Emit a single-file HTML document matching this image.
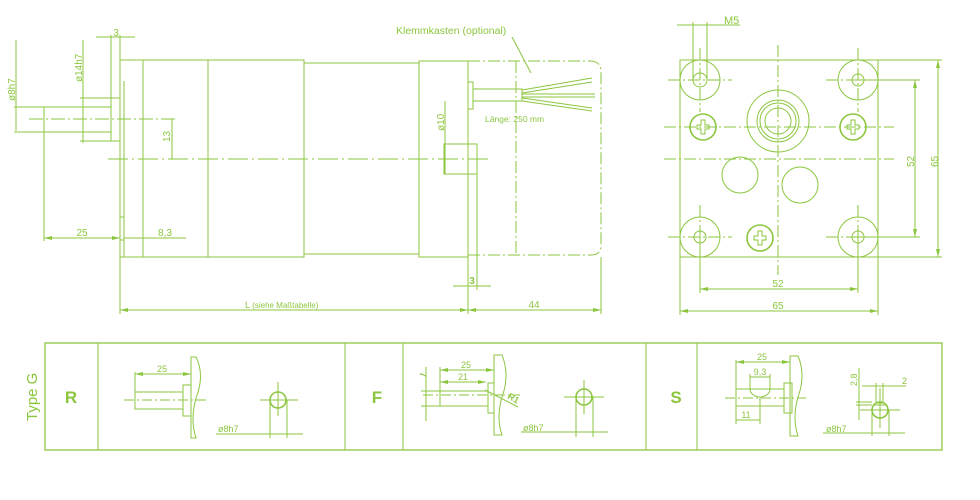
<!DOCTYPE html>
<html><head><meta charset="utf-8"><style>
html,body{margin:0;padding:0;background:#fff;width:980px;height:500px;overflow:hidden}
svg{display:block}
text{font-family:"Liberation Sans",sans-serif;fill:#8cc63f}
</style></head><body>
<svg width="980" height="500" viewBox="0 0 980 500" xmlns="http://www.w3.org/2000/svg">
<defs>
<marker id="a" viewBox="0 0 8 6" refX="8" refY="3" markerWidth="8" markerHeight="6" orient="auto-start-reverse"><path d="M0,1 L8,3 L0,5z" fill="#8cc63f"/></marker>
</defs>
<g stroke="#8cc63f" fill="none" stroke-width="1">
<!-- main side view -->
<rect x="120" y="60" width="184" height="197"/>
<line x1="143" y1="60" x2="143" y2="257"/>
<line x1="208" y1="60" x2="208" y2="257"/>
<line x1="304" y1="63" x2="419" y2="63"/>
<line x1="304" y1="254" x2="419" y2="254"/>
<rect x="419" y="61" width="49" height="196"/>
<rect x="468" y="82" width="5" height="27"/>
<rect x="473" y="89" width="49" height="12"/>
<path d="M522,90 L592,78 M522,93 L592,82 M522,94 L595,94 M522,97 L595,97 M522,98 L592,108 M522,101 L592,111"/>
<rect x="444" y="144" width="33" height="30"/>
<!-- terminal box dashed -->
<path d="M468,61 L590,61 Q601,61 601,72 L601,246 Q601,255 590,255 L468,255" stroke-dasharray="12,3,2,3"/>
<line x1="516" y1="61" x2="516" y2="255" stroke-dasharray="12,3,2,3"/>
<!-- shaft -->
<rect x="44" y="107" width="67" height="25"/>
<rect x="111" y="98" width="9" height="43"/>
<line x1="124" y1="81" x2="124" y2="257"/>
<rect x="120" y="217" width="4" height="23"/>
<!-- centerlines -->
<line x1="29" y1="119" x2="175" y2="119" stroke-dasharray="14,3,2,3"/>
<line x1="108" y1="159" x2="490" y2="159" stroke-dasharray="20,4,2,4"/>
<!-- dims -->
<line x1="16" y1="40" x2="16" y2="131"/>
<line x1="14" y1="107" x2="44" y2="107"/><line x1="14" y1="132" x2="44" y2="132"/>
<line x1="83" y1="40" x2="83" y2="143"/>
<line x1="80" y1="98" x2="111" y2="98"/><line x1="80" y1="141" x2="111" y2="141"/>
<line x1="111" y1="35" x2="111" y2="98"/><line x1="120" y1="35" x2="120" y2="60"/>
<line x1="96" y1="37" x2="135" y2="37"/>
<line x1="172" y1="119" x2="172" y2="159"/>
<line x1="44" y1="132" x2="44" y2="241"/>
<line x1="44" y1="238" x2="120" y2="238" marker-start="url(#a)" marker-end="url(#a)"/>
<line x1="124" y1="238" x2="186" y2="238"/>
<line x1="120" y1="257" x2="120" y2="314"/>
<line x1="120" y1="310" x2="468" y2="310" marker-start="url(#a)" marker-end="url(#a)"/>
<line x1="468" y1="257" x2="468" y2="314"/>
<line x1="477" y1="174" x2="477" y2="290"/>
<line x1="453" y1="286" x2="491" y2="286"/>
<line x1="468" y1="310" x2="601" y2="310" marker-start="url(#a)" marker-end="url(#a)"/>
<line x1="601" y1="257" x2="601" y2="314"/>
<line x1="445" y1="101" x2="445" y2="174"/>
<line x1="512" y1="37" x2="531" y2="73"/>
<!-- end view -->
<rect x="680" y="60" width="198" height="197"/>
<line x1="878" y1="60" x2="942" y2="60"/><line x1="878" y1="257" x2="942" y2="257"/>
<line x1="938" y1="60" x2="938" y2="257" marker-start="url(#a)" marker-end="url(#a)"/>
<line x1="858" y1="80" x2="920" y2="80"/><line x1="858" y1="237" x2="920" y2="237"/>
<line x1="915" y1="80" x2="915" y2="237" marker-start="url(#a)" marker-end="url(#a)"/>
<line x1="680" y1="257" x2="680" y2="315"/><line x1="878" y1="257" x2="878" y2="315"/>
<line x1="680" y1="311" x2="878" y2="311" marker-start="url(#a)" marker-end="url(#a)"/>
<line x1="700" y1="237" x2="700" y2="293"/><line x1="858" y1="237" x2="858" y2="293"/>
<line x1="700" y1="289" x2="858" y2="289" marker-start="url(#a)" marker-end="url(#a)"/>
<line x1="693" y1="22" x2="693" y2="80"/><line x1="707" y1="22" x2="707" y2="80"/>
<line x1="677" y1="25" x2="740" y2="25"/>
<g stroke-dasharray="12,3,2,3">
<line x1="668" y1="80" x2="732" y2="80"/><line x1="826" y1="80" x2="890" y2="80"/>
<line x1="668" y1="237" x2="732" y2="237"/><line x1="826" y1="237" x2="890" y2="237"/>
<line x1="664" y1="127" x2="894" y2="127"/><line x1="664" y1="159" x2="894" y2="159"/>
<line x1="700" y1="48" x2="700" y2="112"/><line x1="858" y1="48" x2="858" y2="112"/>
<line x1="700" y1="205" x2="700" y2="268"/><line x1="858" y1="205" x2="858" y2="268"/>
<line x1="778" y1="45" x2="778" y2="275"/>
</g>
<circle cx="700" cy="80" r="20"/><circle cx="700" cy="80" r="7"/>
<circle cx="858" cy="80" r="20"/><circle cx="858" cy="80" r="6"/>
<circle cx="700" cy="237" r="20"/><circle cx="700" cy="237" r="6"/>
<circle cx="858" cy="237" r="20"/><circle cx="858" cy="237" r="6"/>
<g stroke-width="1.6">
<circle cx="703" cy="127" r="13"/><circle cx="853" cy="127" r="13"/><circle cx="760" cy="238" r="13"/>
</g>
<path d="M697,125h4v-5h4v5h4v4h-4v5h-4v-5h-4z M847,125h4v-5h4v5h4v4h-4v5h-4v-5h-4z M754,236h4v-5h4v5h4v4h-4v5h-4v-5h-4z"/>
<circle cx="778" cy="121" r="31"/><circle cx="778" cy="121" r="21"/><circle cx="778" cy="121" r="18"/><circle cx="778" cy="121" r="13"/>
<circle cx="740" cy="175" r="18"/><circle cx="800" cy="185" r="18"/>
<!-- table -->
<rect x="45" y="343" width="897" height="107" stroke-width="1.3"/>
<line x1="98" y1="343" x2="98" y2="450"/><line x1="345" y1="343" x2="345" y2="450"/>
<line x1="403" y1="343" x2="403" y2="450"/><line x1="646" y1="343" x2="646" y2="450"/>
<line x1="697" y1="343" x2="697" y2="450"/>
<!-- R -->
<rect x="135" y="392" width="48" height="17"/><rect x="183" y="385" width="8" height="31"/>
<path d="M191,357 L196,357 Q205,375 196,398 Q190,420 196,438 L191,438z"/>
<line x1="124" y1="400" x2="206" y2="400" stroke-dasharray="10,3,2,3"/>
<line x1="135" y1="372" x2="135" y2="392"/>
<line x1="135" y1="374" x2="191" y2="374" marker-start="url(#a)" marker-end="url(#a)"/>
<circle cx="278" cy="400" r="8" stroke-width="1.6"/>
<line x1="260" y1="400" x2="298" y2="400"/><line x1="278" y1="382" x2="278" y2="416"/>
<line x1="270" y1="400" x2="270" y2="438"/><line x1="287" y1="400" x2="287" y2="438"/>
<line x1="216" y1="434" x2="303" y2="434"/>
<!-- F -->
<rect x="440" y="391" width="48" height="15"/><rect x="488" y="383" width="6" height="30"/>
<path d="M494,355 L502,355 Q510,375 502,397 Q496,418 502,435 L494,435z"/>
<line x1="423" y1="395" x2="520" y2="395" stroke-dasharray="10,3,2,3"/>
<line x1="440" y1="367" x2="440" y2="391"/>
<line x1="440" y1="370" x2="494" y2="370" marker-start="url(#a)" marker-end="url(#a)"/>
<line x1="440" y1="382" x2="486" y2="382" marker-start="url(#a)" marker-end="url(#a)"/>
<line x1="426" y1="367" x2="426" y2="421"/>
<line x1="421" y1="391" x2="440" y2="391"/><line x1="421" y1="406" x2="440" y2="406"/>
<line x1="485" y1="390" x2="518" y2="407"/>
<circle cx="584" cy="397" r="8" stroke-width="1.6"/>
<line x1="564" y1="397" x2="604" y2="397"/><line x1="584" y1="380" x2="584" y2="414"/>
<line x1="576" y1="397" x2="576" y2="437"/><line x1="593" y1="397" x2="593" y2="437"/>
<line x1="521" y1="432" x2="608" y2="432"/>
<!-- S -->
<rect x="736" y="389" width="48" height="17"/><rect x="784" y="383" width="8" height="30"/>
<path d="M790,356 L798,356 Q806,375 798,397 Q792,418 798,436 L790,436z"/>
<path d="M750,389 A10,8 0 0 0 770,389"/>
<line x1="725" y1="398" x2="806" y2="398" stroke-dasharray="10,3,2,3"/>
<line x1="736" y1="360" x2="736" y2="424"/>
<line x1="736" y1="362" x2="790" y2="362" marker-start="url(#a)" marker-end="url(#a)"/>
<line x1="750" y1="374" x2="750" y2="389"/><line x1="770" y1="374" x2="770" y2="389"/>
<line x1="750" y1="377" x2="770" y2="377"/>
<line x1="760" y1="398" x2="760" y2="424"/>
<line x1="736" y1="420" x2="760" y2="420"/>
<circle cx="880" cy="410" r="8" stroke-width="1.6"/>
<path d="M873,405 L887,405 M875,403 L885,403" />
<line x1="860" y1="410" x2="900" y2="410"/><line x1="880" y1="388" x2="880" y2="428"/>
<line x1="876" y1="383" x2="876" y2="402"/><line x1="883" y1="383" x2="883" y2="402"/>
<line x1="862" y1="386" x2="906" y2="386"/>
<line x1="859" y1="368" x2="859" y2="420"/>
<line x1="856" y1="402" x2="872" y2="402"/><line x1="856" y1="405" x2="872" y2="405"/>
<line x1="872" y1="410" x2="872" y2="436"/><line x1="889" y1="410" x2="889" y2="436"/>
<line x1="823" y1="433" x2="905" y2="433"/>
</g>
<g font-size="10">
<text x="116" y="36" text-anchor="middle">3</text>
<text transform="translate(15,101) rotate(-90)">ø8h7</text>
<text transform="translate(82,82) rotate(-90)">ø14h7</text>
<text transform="translate(170,142) rotate(-90)">13</text>
<text x="82" y="236" text-anchor="middle">25</text>
<text x="165" y="236" text-anchor="middle">8,3</text>
<text x="245" y="308" font-size="9">L   <tspan font-size="8">(siehe Maßtabelle)</tspan></text>
<text transform="translate(444,131) rotate(-90)">ø10</text>
<text x="472" y="284" text-anchor="middle" font-weight="bold">3</text>
<text x="534" y="308" text-anchor="middle">44</text>
<text x="396" y="34" font-size="10.5">Klemmkasten (optional)</text>
<text x="485" y="122" font-size="8.5">Länge: 250 mm</text>
<text x="724" y="24" font-size="11">M5</text>
<text transform="translate(914,167) rotate(-90)">52</text>
<text transform="translate(938,167) rotate(-90)">65</text>
<text x="778" y="287" text-anchor="middle">52</text>
<text x="778" y="309" text-anchor="middle">65</text>
<text transform="translate(37,421) rotate(-90)" font-size="15">Type G</text>
<text x="71" y="403" text-anchor="middle" font-size="17" font-weight="bold">R</text>
<text x="377" y="403" text-anchor="middle" font-size="17" font-weight="bold">F</text>
<text x="676" y="403" text-anchor="middle" font-size="17" font-weight="bold">S</text>
<text x="162" y="372" text-anchor="middle" font-size="9">25</text>
<text x="218" y="432" font-size="9">ø8h7</text>
<text x="466" y="368" text-anchor="middle" font-size="9">25</text>
<text x="463" y="380" text-anchor="middle" font-size="9">21</text>
<text transform="translate(420,372) rotate(90)" font-size="9" font-weight="bold">7</text>
<text transform="translate(507,398) rotate(30)" font-size="9" font-weight="bold">R1</text>
<text x="523" y="431" font-size="9">ø8h7</text>
<text x="762" y="360" text-anchor="middle" font-size="9">25</text>
<text x="760" y="375" text-anchor="middle" font-size="9">9,3</text>
<text x="746" y="418" text-anchor="middle" font-size="9">11</text>
<text transform="translate(857,386) rotate(-90)" font-size="9">2,8</text>
<text x="902" y="384" font-size="9">2</text>
<text x="826" y="432" font-size="9">ø8h7</text>
</g>
</svg>
</body></html>
